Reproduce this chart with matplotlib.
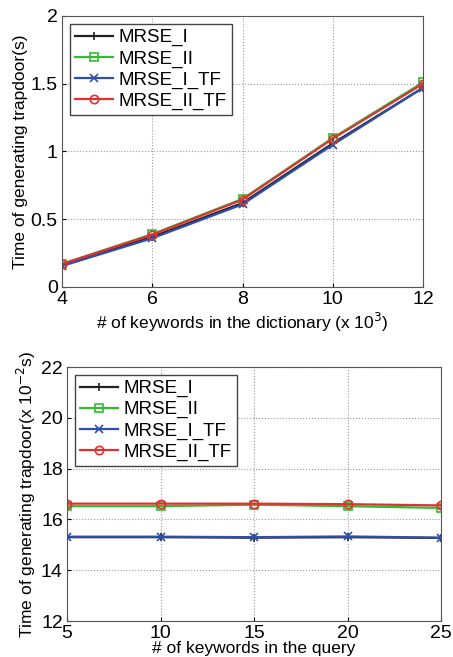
import numpy as np
import matplotlib
matplotlib.use('Agg')
from matplotlib import pyplot as plt

plt.rcParams['font.family'] = ['Liberation Sans', 'DejaVu Sans']

# top chart: dictionary size
dict_size = [4, 6, 8, 10, 12]
top_mrse_i = [0.16, 0.37, 0.62, 1.06, 1.47]
top_mrse_ii = [0.17, 0.39, 0.65, 1.10, 1.51]
top_mrse_i_tf = [0.155, 0.36, 0.61, 1.05, 1.47]
top_mrse_ii_tf = [0.17, 0.385, 0.645, 1.095, 1.50]

# bottom chart: keywords in query
query_size = [5, 10, 15, 20, 25]
bot_mrse_i = [15.30, 15.30, 15.28, 15.30, 15.27]
bot_mrse_ii = [16.52, 16.52, 16.58, 16.52, 16.45]
bot_mrse_i_tf = [15.32, 15.32, 15.30, 15.33, 15.28]
bot_mrse_ii_tf = [16.62, 16.62, 16.62, 16.60, 16.55]

labels = ['MRSE_I', 'MRSE_II', 'MRSE_I_TF', 'MRSE_II_TF']
colors = ['#222222', '#33bb33', '#2e4fb0', '#e03030']
markers = ['+', 's', 'x', 'o']

fig = plt.figure(figsize=(4.53, 6.57), dpi=100)
ax1 = fig.add_axes([62/453, 1-287/657, 361/453, 271/657])
ax2 = fig.add_axes([67/453, 1-621/657, 374/453, 254/657])

def draw(ax, x, series):
    for ys, lab, c, m in zip(series, labels, colors, markers):
        ax.plot(x, ys, color=c, marker=m, markersize=6, markerfacecolor='none',
                markeredgewidth=1.2, linewidth=1.6, label=lab)
    ax.grid(True, linestyle=':', color='#999999', linewidth=0.8)
    ax.tick_params(labelsize=14, direction='in', length=3, pad=3)
    leg = ax.legend(loc='upper left', fontsize=13.5, handlelength=2.0,
                    borderpad=0.3, labelspacing=0.2, handletextpad=0.3,
                    fancybox=False, framealpha=1, edgecolor='#444444',
                    borderaxespad=0.4)
    leg.get_frame().set_linewidth(1.0)
    for s in ax.spines.values():
        s.set_color('#555555')

draw(ax1, dict_size, [top_mrse_i, top_mrse_ii, top_mrse_i_tf, top_mrse_ii_tf])
ax1.set_xlim(4, 12)
ax1.set_ylim(0, 2)
ax1.set_xticks([4, 6, 8, 10, 12])
ax1.set_yticks([0, 0.5, 1, 1.5, 2])
ax1.set_yticklabels(['0', '0.5', '1', '1.5', '2'])
ax1.set_xlabel('# of keywords in the dictionary (x 10$^3$)', fontsize=12.5, labelpad=2)
ax1.set_ylabel('Time of generating trapdoor(s)', fontsize=12.5, labelpad=2)

draw(ax2, query_size, [bot_mrse_i, bot_mrse_ii, bot_mrse_i_tf, bot_mrse_ii_tf])
ax2.set_xlim(5, 25)
ax2.set_ylim(12, 22)
ax2.set_xticks([5, 10, 15, 20, 25])
ax2.set_yticks([12, 14, 16, 18, 20, 22])
ax2.set_xlabel('# of keywords in the query', fontsize=12.5, labelpad=-1)
ax2.set_ylabel('Time of generating trapdoor(x 10$^{-2}$s)', fontsize=12.5, labelpad=2)

fig.savefig('out.png', dpi=100)
